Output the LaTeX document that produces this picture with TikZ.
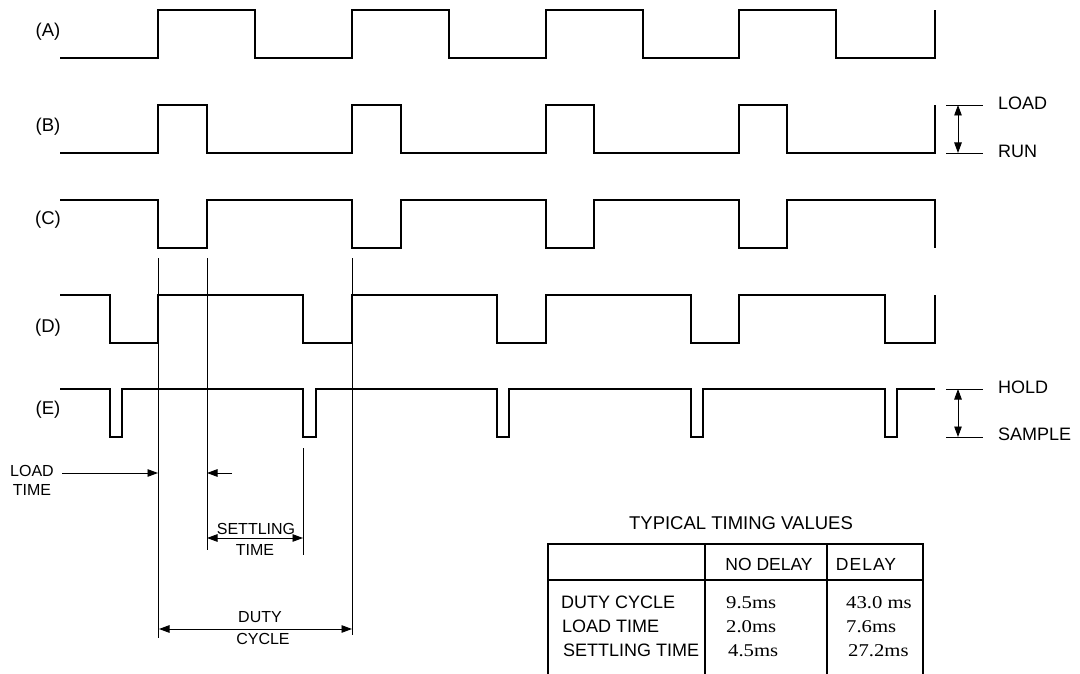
\documentclass[tikz,border=0pt]{standalone}
\usepackage{fontspec}
\setmainfont{Liberation Sans}
\newfontfamily\valfont[FakeStretch=1.15]{Liberation Serif}
\usetikzlibrary{arrows.meta}
\begin{document}
\begin{tikzpicture}[x=1pt,y=-1pt,
  wave/.style={line width=1.8pt, line join=miter},
  guide/.style={line width=0.9pt},
  tbl/.style={line width=1.1pt},
  tip/.tip={Triangle[length=10.5pt,width=7.5pt]},
  dimboth/.style={line width=0.9pt, tip-tip},
  dimone/.style={line width=0.9pt, -tip},
  sig/.style={font=\fontsize{18.5}{19}\selectfont, inner sep=0pt},
  ann/.style={font=\fontsize{16}{17}\selectfont, inner sep=0pt, align=center},
  rl/.style={font=\fontsize{18}{19}\selectfont, inner sep=0pt, anchor=west},
  thd/.style={font=\fontsize{17.5}{18}\selectfont, inner sep=0pt},
  ttlf/.style={font=\fontsize{18.5}{19}\selectfont, inner sep=0pt},
  trow/.style={font=\fontsize{18}{19}\selectfont, inner sep=0pt, anchor=west},
  tval/.style={font=\valfont\fontsize{18}{19}\selectfont, inner sep=0pt, anchor=west}
]
\useasboundingbox (0,0) rectangle (1080,674);

% signal labels
\node[sig] (la) at (48,32) {(A)};
\node[sig] (lb) at (48,127) {(B)};
\node[sig] (lc) at (48,220) {(C)};
\node[sig] (ld) at (48,328) {(D)};
\node[sig] (le) at (48,410) {(E)};

% waveforms
\draw[wave] (60,58) -| (158,10) -| (255,58) -| (352,10) -| (449,58) -| (546,10) -| (643,58) -| (739,10) -| (836,58) -| (935,10);
\draw[wave] (60,153) -| (158,105) -| (207,153) -| (352,105) -| (401,153) -| (546,105) -| (594,153) -| (739,105) -| (787,153) -| (935,105);
\draw[wave] (60,200) -| (158,248) -| (207,200) -| (352,248) -| (401,200) -| (546,248) -| (594,200) -| (739,248) -| (787,200) -| (935,248);
\draw[wave] (60,295) -| (110,343) -| (158,295) -| (303,343) -| (352,295) -| (497,343) -| (546,295) -| (691,343) -| (739,295) -| (885,343) -| (935,295);
\draw[wave] (60,389) -| (110,437) -| (122,389) -| (303,437) -| (316,389) -| (497,437) -| (509,389) -| (691,437) -| (703,389) -| (885,437) -| (897,389) -- (935,389);

% right level markers
\coordinate (lt) at (958,105);
\coordinate (rt) at (958,153);
\draw[guide] (946,105) -- (983,105);
\draw[guide] (946,153) -- (983,153);
\draw[dimboth] (lt) -- (rt);
\node[rl] (load) at (998,103) {LOAD};
\node[rl] (run) at (998,151) {RUN};

\coordinate (ht) at (958,389);
\coordinate (st) at (958,437);
\draw[guide] (946,389) -- (983,389);
\draw[guide] (946,437) -- (983,437);
\draw[dimboth] (ht) -- (st);
\node[rl] (hold) at (998,387) {HOLD};
\node[rl] (sample) at (998,434) {SAMPLE};

% guide lines
\draw[guide] (158,258) -- (158,638);
\draw[guide] (207,258) -- (207,550);
\draw[guide] (352,258) -- (352,635);
\draw[guide] (303,448) -- (303,555);

% load time
\node[ann] (ltime) at (32,480) {LOAD\\[2pt]TIME};
\coordinate (lta) at (62,473);
\coordinate (ltb) at (158,473);
\draw[dimone] (lta) -- (ltb);
\coordinate (ltc) at (232,473);
\coordinate (ltd) at (207,473);
\draw[dimone] (ltc) -- (ltd);

% settling time
\coordinate (sa) at (207,538);
\coordinate (sb) at (303,538);
\draw[dimboth] (sa) -- (sb);
\node[ann] (settl) at (256,529) {SETTLING};
\node[ann] (settl2) at (255,550) {TIME};

% duty cycle
\coordinate (da) at (159,629);
\coordinate (db) at (352,629);
\draw[dimboth] (da) -- (db);
\node[ann] (duty) at (260,617) {DUTY};
\node[ann] (cycle) at (263,639) {CYCLE};

% table
\node[ttlf] (ttl) at (741,523) {TYPICAL TIMING VALUES};
\draw[tbl] (548,674) |- (923,544) -- (923,674);
\draw[tbl] (548,580) -- (923,580);
\draw[tbl] (705,544) -- (705,674);
\draw[tbl] (827,544) -- (827,674);
\node[thd] (nd) at (769,564) {NO DELAY};
\node[thd] (dl) at (866,564) {\addfontfeature{LetterSpace=6}DELAY};
\node[trow] (r1) at (561,602) {DUTY CYCLE};
\node[trow] (r2) at (562,626) {LOAD TIME};
\node[trow] (r3) at (563,650) {SETTLING TIME};
\node[tval] (v11) at (726,603) {9.5ms};
\node[tval] (v21) at (726,627) {2.0ms};
\node[tval] (v31) at (728,651) {4.5ms};
\node[tval] (v12) at (846,603) {43.0 ms};
\node[tval] (v22) at (846,627) {7.6ms};
\node[tval] (v32) at (848,651) {27.2ms};
\end{tikzpicture}
\end{document}
